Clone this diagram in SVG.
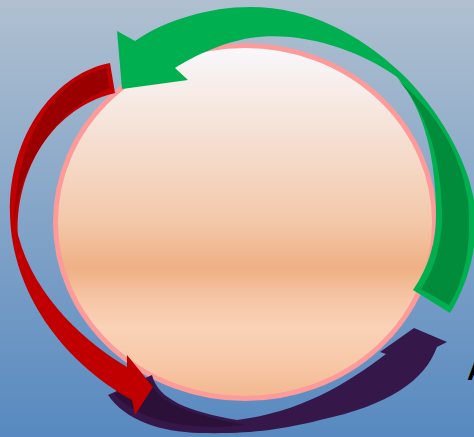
<svg xmlns="http://www.w3.org/2000/svg" width="474" height="437" viewBox="0 0 474 437">
<defs>
<linearGradient id="bg" x1="0" y1="0" x2="0" y2="1">
<stop offset="0" stop-color="#b0c0d0"/>
<stop offset="1" stop-color="#5789c0"/>
</linearGradient>
<linearGradient id="ball" x1="0" y1="0" x2="0" y2="1">
<stop offset="0" stop-color="#f8f8fc"/>
<stop offset="0.3" stop-color="#f5dccc"/>
<stop offset="0.5" stop-color="#f3c8a9"/>
<stop offset="0.63" stop-color="#efb084"/>
<stop offset="0.72" stop-color="#f6c6a6"/>
<stop offset="0.8" stop-color="#f9d2b7"/>
<stop offset="0.9" stop-color="#f7c8a8"/>
<stop offset="1" stop-color="#f2b78f"/>
</linearGradient>
<style>
.ball{fill:url(#ball);stroke:#fd9a9a;stroke-width:5}
.green{fill:#00b050}
.greenDark{fill:#008c3a}
.red{fill:#c00000}
.redDark{fill:#9a0000}
.purple{fill:#36174a}
.purpleDark{fill:#2b1038}
.label{font-family:"Liberation Sans",Arial,sans-serif;font-weight:bold;font-size:28px;fill:#000}
</style>
</defs>
<rect x="0" y="0" width="474" height="437" fill="url(#bg)"/>
<g id="circle">
<ellipse class="ball" cx="245" cy="222" rx="189.5" ry="176.5"/>
</g>
<g id="connectors">
<g id="arrow-purple">
<path class="purple" d="M152,375 C158,400 190,412 237,420 C300,412 345,385 386,354 L380,352 L414,328 L447,342 L437,347 C425,380 390,405 320,420 C280,430 250,434 200,433 C160,432 125,420 108,395 Z"/>
<path class="purpleDark" d="M114,394 L150,381 C158,403 190,415 245,425 C190,431 140,422 114,394 Z"/>
</g>
<g id="arrow-green">
<path class="green" d="M117,31 L135,41 C165,20 210,7 250,7 C310,7 360,35 400,72 C430,100 465,150 474,200 C480,240 470,280 450,313 L413,290 C430,265 436,240 436,215 C436,160 425,110 397,77 C360,50 300,30 250,38 C225,42 195,55 175,68 L188,80 L122,89 Z"/>
<path class="greenDark" d="M399,81 C426,110 442,160 442,215 C442,245 434,270 421,289 L449,305 C465,280 472,245 468,200 C460,150 435,112 399,81 Z"/>
</g>
<g id="arrow-red">
<path class="red" d="M110,63 C60,72 8,130 10,215 C12,290 60,360 132,400 L135,415 L153,387 L127,355 L127,367 C90,345 35,300 18,235 C15,180 45,110 115,93 Z"/>
<path class="redDark" d="M106,68 C58,79 14,132 14,232 C15,180 47,113 110,88 Z"/>
</g>
</g>
<text class="label" x="467" y="380">A</text>
</svg>
